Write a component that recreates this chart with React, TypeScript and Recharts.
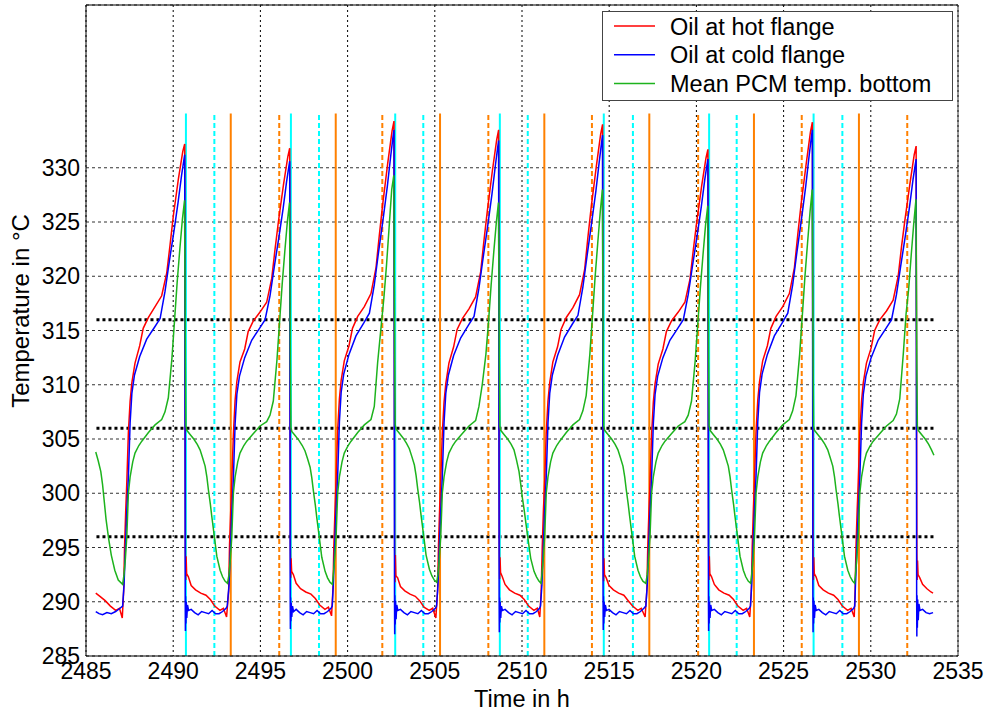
import React from 'react';
import { LineChart, Line, XAxis, YAxis, CartesianGrid, ReferenceLine } from 'recharts';

const xTicks = [2485, 2490, 2495, 2500, 2505, 2510, 2515, 2520, 2525, 2530, 2535];
const yTicks = [285, 290, 295, 300, 305, 310, 315, 320, 325, 330];

const seriesNames = ['Oil at hot flange', 'Oil at cold flange', 'Mean PCM temp. bottom'];
const seriesColors = ['#ff0000', '#0000ff', '#1db31d'];

// [time in h, temperature in °C]
const oilHotFlange: [number, number][] = [
  [2485.56,290.8],[2485.80,290.5],[2486.10,290.1],[2486.40,289.6],[2486.70,289.2],[2486.92,289.4],[2487.08,288.5],
  [2487.16,291.0],[2487.21,295.0],[2487.28,298.5],[2487.34,301.0],[2487.43,305.6],[2487.53,308.5],[2487.63,310.2],[2487.81,312.0],[2488.08,313.6],[2488.28,315.2],[2488.58,316.2],[2488.96,317.2],[2489.34,318.2],[2489.63,320.3],[2489.82,322.9],[2490.01,325.6],[2490.30,329.0],[2490.55,331.5],[2490.66,332.2],
  [2490.70,294.8],[2490.72,292.0],[2490.74,294.2],[2490.77,292.6],[2490.87,292.3],[2491.03,291.5],[2491.28,291.1],[2491.58,290.8],[2491.88,290.6],[2492.13,290.2],[2492.38,289.6],[2492.68,289.2],[2492.88,289.4],[2493.06,288.6],
  [2493.18,291.0],[2493.23,295.2],[2493.30,298.4],[2493.36,301.2],[2493.45,305.4],[2493.55,308.6],[2493.65,310.3],[2493.83,312.1],[2494.10,313.3],[2494.30,314.9],[2494.60,315.9],[2494.98,316.7],[2495.36,317.6],[2495.65,319.8],[2495.84,322.5],[2496.03,325.0],[2496.32,328.4],[2496.57,331.0],[2496.68,331.8],
  [2496.72,295.0],[2496.74,292.2],[2496.76,294.0],[2496.79,292.8],[2496.89,292.5],[2497.05,291.7],[2497.30,291.2],[2497.60,290.9],[2497.90,290.7],[2498.15,290.3],[2498.40,289.7],[2498.70,289.3],[2498.90,289.5],[2499.08,288.7],
  [2499.16,291.2],[2499.21,295.0],[2499.28,298.6],[2499.34,301.3],[2499.43,305.8],[2499.53,308.7],[2499.63,310.4],[2499.81,312.2],[2500.08,313.6],[2500.28,315.2],[2500.58,316.3],[2500.96,317.2],[2501.34,318.4],[2501.63,320.8],[2501.82,323.8],[2502.01,326.6],[2502.30,330.4],[2502.55,333.4],[2502.66,334.3],
  [2502.70,294.6],[2502.72,291.8],[2502.74,294.3],[2502.77,292.4],[2502.87,292.2],[2503.03,291.4],[2503.28,291.0],[2503.58,290.7],[2503.88,290.5],[2504.13,290.1],[2504.38,289.5],[2504.68,289.2],[2504.88,289.4],[2505.06,288.5],
  [2505.16,291.0],[2505.21,295.1],[2505.28,298.7],[2505.34,301.1],[2505.43,305.5],[2505.53,308.4],[2505.63,310.1],[2505.81,312.0],[2506.08,313.5],[2506.28,315.1],[2506.58,316.1],[2506.96,317.0],[2507.34,318.1],[2507.63,320.4],[2507.82,323.3],[2508.01,326.0],[2508.30,329.7],[2508.55,332.6],[2508.66,333.5],
  [2508.70,294.9],[2508.72,292.1],[2508.74,294.1],[2508.77,292.7],[2508.87,292.3],[2509.03,291.6],[2509.28,291.1],[2509.58,290.8],[2509.88,290.6],[2510.13,290.2],[2510.38,289.6],[2510.68,289.2],[2510.88,289.4],[2511.02,288.6],
  [2511.10,291.0],[2511.16,295.0],[2511.23,298.5],[2511.30,301.0],[2511.39,305.6],[2511.49,308.5],[2511.59,310.2],[2511.77,312.1],[2512.04,313.5],[2512.24,315.1],[2512.54,316.2],[2512.92,317.1],[2513.30,318.3],[2513.59,320.6],[2513.78,323.6],[2513.97,326.4],[2514.26,330.1],[2514.51,333.1],[2514.62,334.0],
  [2514.66,294.7],[2514.68,291.9],[2514.70,294.0],[2514.73,292.5],[2514.83,292.2],[2514.99,291.5],[2515.24,291.1],[2515.54,290.8],[2515.84,290.6],[2516.09,290.1],[2516.34,289.6],[2516.64,289.2],[2516.84,289.4],[2517.06,288.6],
  [2517.16,291.1],[2517.21,295.0],[2517.28,298.4],[2517.34,301.0],[2517.43,305.4],[2517.53,308.4],[2517.63,310.1],[2517.81,311.9],[2518.08,313.3],[2518.28,314.9],[2518.58,315.9],[2518.96,316.7],[2519.34,317.6],[2519.63,319.7],[2519.82,322.4],[2520.01,324.9],[2520.30,328.3],[2520.55,330.9],[2520.66,331.7],
  [2520.70,294.9],[2520.72,292.0],[2520.74,294.2],[2520.77,292.6],[2520.87,292.3],[2521.03,291.6],[2521.28,291.1],[2521.58,290.8],[2521.88,290.6],[2522.13,290.2],[2522.38,289.6],[2522.68,289.2],[2522.88,289.4],[2523.06,288.6],
  [2523.15,291.0],[2523.20,295.1],[2523.27,298.6],[2523.33,301.2],[2523.42,305.7],[2523.52,308.6],[2523.62,310.3],[2523.80,312.2],[2524.07,313.6],[2524.27,315.2],[2524.57,316.3],[2524.95,317.2],[2525.33,318.4],[2525.62,320.8],[2525.81,323.8],[2526.00,326.6],[2526.29,330.3],[2526.54,333.3],[2526.65,334.2],
  [2526.69,294.8],[2526.71,292.0],[2526.73,294.1],[2526.76,292.6],[2526.86,292.3],[2527.02,291.5],[2527.27,291.1],[2527.57,290.8],[2527.87,290.6],[2528.12,290.2],[2528.37,289.6],[2528.67,289.2],[2528.87,289.4],[2529.05,288.6],
  [2529.10,291.0],[2529.15,295.0],[2529.22,298.5],[2529.28,301.0],[2529.37,305.5],[2529.47,308.5],[2529.57,310.2],[2529.75,312.0],[2530.02,313.4],[2530.22,315.0],[2530.52,316.0],[2530.90,316.8],[2531.28,317.8],[2531.57,320.0],[2531.76,322.7],[2531.95,325.1],[2532.24,328.5],[2532.49,331.2],[2532.60,332.0],
  [2532.64,294.5],[2532.66,292.0],[2532.68,293.8],[2532.71,292.5],[2532.81,292.2],[2532.97,291.6],[2533.22,291.2],[2533.45,290.9],[2533.57,290.8],
];

const oilColdFlange: [number, number][] = [
  [2485.56,289.1],[2485.75,288.9],[2485.95,288.8],[2486.20,289.0],[2486.45,288.9],[2486.70,289.1],[2486.95,289.4],[2487.10,289.6],
  [2487.18,291.5],[2487.25,294.5],[2487.33,298.0],[2487.43,301.5],[2487.53,306.5],[2487.63,309.2],[2487.78,310.9],[2488.08,312.6],[2488.48,314.2],[2488.93,315.3],[2489.25,316.1],[2489.53,318.6],[2489.78,321.4],[2490.03,324.0],[2490.28,326.8],[2490.48,329.3],[2490.60,330.6],[2490.66,331.2],
  [2490.69,290.2],[2490.70,287.3],[2490.71,290.5],[2490.73,288.0],[2490.75,290.0],[2490.78,288.5],[2490.82,289.7],[2490.88,289.2],[2491.03,289.3],[2491.23,289.0],[2491.43,288.8],[2491.63,289.1],[2491.83,289.0],[2492.03,288.9],[2492.23,289.2],[2492.43,288.9],[2492.63,288.9],[2492.83,289.1],[2493.03,289.4],[2493.10,289.6],
  [2493.20,291.5],[2493.27,294.4],[2493.35,297.8],[2493.45,301.3],[2493.55,306.4],[2493.65,309.1],[2493.80,310.8],[2494.10,312.5],[2494.50,314.1],[2494.95,315.2],[2495.27,316.0],[2495.55,318.2],[2495.80,320.9],[2496.05,323.5],[2496.30,326.2],[2496.50,328.7],[2496.62,330.0],[2496.68,330.6],
  [2496.71,290.3],[2496.72,287.5],[2496.73,290.4],[2496.75,288.2],[2496.77,289.9],[2496.80,288.6],[2496.84,289.6],[2496.90,289.1],[2497.05,289.3],[2497.25,289.0],[2497.45,288.8],[2497.65,289.1],[2497.85,289.0],[2498.05,288.9],[2498.25,289.2],[2498.45,288.9],[2498.65,288.9],[2498.85,289.1],[2499.05,289.4],[2499.12,289.6],
  [2499.18,291.6],[2499.25,294.6],[2499.33,298.1],[2499.43,301.6],[2499.53,306.6],[2499.63,309.3],[2499.78,311.0],[2500.08,312.8],[2500.48,314.5],[2500.93,315.7],[2501.25,316.6],[2501.53,319.2],[2501.78,322.3],[2502.03,325.2],[2502.28,328.3],[2502.48,331.2],[2502.60,332.8],[2502.66,333.5],
  [2502.69,290.1],[2502.70,287.0],[2502.71,290.6],[2502.73,287.9],[2502.75,290.1],[2502.78,288.4],[2502.82,289.7],[2502.88,289.2],[2503.03,289.3],[2503.23,289.0],[2503.43,288.8],[2503.63,289.1],[2503.83,289.0],[2504.03,288.9],[2504.23,289.2],[2504.43,288.9],[2504.63,288.9],[2504.83,289.1],[2505.03,289.4],[2505.10,289.6],
  [2505.18,291.5],[2505.25,294.5],[2505.33,298.0],[2505.43,301.5],[2505.53,306.5],[2505.63,309.2],[2505.78,310.9],[2506.08,312.7],[2506.48,314.3],[2506.93,315.5],[2507.25,316.3],[2507.53,318.9],[2507.78,321.8],[2508.03,324.6],[2508.28,327.6],[2508.48,330.3],[2508.60,331.8],[2508.66,332.5],
  [2508.69,290.2],[2508.70,287.2],[2508.71,290.4],[2508.73,288.1],[2508.75,290.0],[2508.78,288.5],[2508.82,289.6],[2508.88,289.2],[2509.03,289.3],[2509.23,289.0],[2509.43,288.8],[2509.63,289.1],[2509.83,289.0],[2510.03,288.9],[2510.23,289.2],[2510.43,288.9],[2510.63,288.9],[2510.83,289.1],[2511.00,289.4],[2511.06,289.6],
  [2511.14,291.5],[2511.21,294.5],[2511.29,298.0],[2511.39,301.5],[2511.49,306.5],[2511.59,309.2],[2511.74,310.9],[2512.04,312.7],[2512.44,314.4],[2512.89,315.6],[2513.21,316.4],[2513.49,319.0],[2513.74,322.0],[2513.99,324.9],[2514.24,327.9],[2514.44,330.7],[2514.56,332.3],[2514.62,333.0],
  [2514.65,290.2],[2514.66,287.4],[2514.67,290.5],[2514.69,288.0],[2514.71,290.0],[2514.74,288.6],[2514.78,289.7],[2514.84,289.2],[2514.99,289.3],[2515.19,289.0],[2515.39,288.8],[2515.59,289.1],[2515.79,289.0],[2515.99,288.9],[2516.19,289.2],[2516.39,288.9],[2516.59,288.9],[2516.79,289.1],[2516.99,289.4],[2517.10,289.6],
  [2517.18,291.5],[2517.25,294.4],[2517.33,297.9],[2517.43,301.4],[2517.53,306.4],[2517.63,309.1],[2517.78,310.8],[2518.08,312.5],[2518.48,314.1],[2518.93,315.2],[2519.25,316.0],[2519.53,318.3],[2519.78,321.0],[2520.03,323.6],[2520.28,326.4],[2520.48,328.9],[2520.60,330.2],[2520.66,330.8],
  [2520.69,290.2],[2520.70,287.3],[2520.71,290.5],[2520.73,288.0],[2520.75,290.0],[2520.78,288.5],[2520.82,289.7],[2520.88,289.2],[2521.03,289.3],[2521.23,289.0],[2521.43,288.8],[2521.63,289.1],[2521.83,289.0],[2522.03,288.9],[2522.23,289.2],[2522.43,288.9],[2522.63,288.9],[2522.83,289.1],[2523.03,289.4],[2523.10,289.6],
  [2523.17,291.6],[2523.24,294.6],[2523.32,298.1],[2523.42,301.6],[2523.52,306.6],[2523.62,309.3],[2523.77,311.0],[2524.07,312.8],[2524.47,314.5],[2524.92,315.7],[2525.24,316.6],[2525.52,319.2],[2525.77,322.3],[2526.02,325.2],[2526.27,328.3],[2526.47,331.2],[2526.59,332.8],[2526.65,333.5],
  [2526.68,290.2],[2526.69,287.2],[2526.70,290.4],[2526.72,288.0],[2526.74,290.1],[2526.77,288.5],[2526.81,289.7],[2526.87,289.2],[2527.02,289.3],[2527.22,289.0],[2527.42,288.8],[2527.62,289.1],[2527.82,289.0],[2528.02,288.9],[2528.22,289.2],[2528.42,288.9],[2528.62,288.9],[2528.82,289.1],[2529.02,289.4],[2529.08,289.6],
  [2529.12,291.5],[2529.19,294.4],[2529.27,297.9],[2529.37,301.4],[2529.47,306.4],[2529.57,309.1],[2529.72,310.8],[2530.02,312.5],[2530.42,314.1],[2530.87,315.2],[2531.19,316.0],[2531.47,318.3],[2531.72,321.0],[2531.97,323.6],[2532.22,326.4],[2532.42,328.9],[2532.54,330.2],[2532.60,330.8],
  [2532.63,290.4],[2532.64,286.8],[2532.65,290.6],[2532.67,287.6],[2532.69,290.2],[2532.72,288.3],[2532.76,289.8],[2532.82,289.2],[2532.97,289.3],[2533.17,289.0],[2533.37,288.9],[2533.57,289.0],
];

const pcmBottomMean: [number, number][] = [
  [2485.56,303.8],[2485.70,303.0],[2485.85,302.0],[2485.95,300.8],[2486.05,299.2],[2486.15,297.6],[2486.30,295.8],[2486.45,294.3],[2486.65,292.9],[2486.85,292.0],[2487.10,291.6],
  [2487.18,292.5],[2487.26,294.0],[2487.34,296.0],[2487.43,300.0],[2487.53,301.5],[2487.68,302.9],[2487.81,303.7],[2488.03,304.4],[2488.20,304.8],[2488.58,305.6],[2488.96,306.3],[2489.34,306.8],[2489.53,307.5],[2489.72,308.8],[2489.93,312.5],[2490.08,316.0],[2490.23,319.5],[2490.38,322.5],[2490.53,325.3],[2490.65,327.0],
  [2490.70,312.0],[2490.73,306.2],[2490.78,305.8],[2490.98,305.4],[2491.18,305.0],[2491.38,304.5],[2491.54,304.0],[2491.68,303.3],[2491.83,302.5],[2491.93,301.5],[2492.02,300.3],[2492.13,299.0],[2492.21,297.9],[2492.36,296.0],[2492.50,294.2],[2492.69,292.9],[2492.83,292.3],[2492.97,291.9],[2493.11,291.7],
  [2493.20,292.5],[2493.28,294.0],[2493.36,296.0],[2493.45,300.0],[2493.55,301.5],[2493.70,302.9],[2493.83,303.7],[2494.05,304.4],[2494.22,304.8],[2494.60,305.5],[2494.98,306.2],[2495.36,306.6],[2495.55,307.2],[2495.74,308.5],[2495.95,312.3],[2496.10,315.8],[2496.25,319.3],[2496.40,322.3],[2496.55,325.1],[2496.67,326.8],
  [2496.72,312.0],[2496.75,306.1],[2496.80,305.7],[2497.00,305.3],[2497.20,304.9],[2497.40,304.4],[2497.56,303.9],[2497.70,303.2],[2497.85,302.4],[2497.95,301.4],[2498.04,300.2],[2498.15,298.9],[2498.23,297.8],[2498.38,295.9],[2498.52,294.1],[2498.71,292.8],[2498.85,292.2],[2498.99,291.8],[2499.13,291.6],
  [2499.18,292.5],[2499.26,294.0],[2499.34,296.0],[2499.43,300.0],[2499.53,301.5],[2499.68,302.9],[2499.81,303.7],[2500.03,304.4],[2500.20,304.8],[2500.58,305.6],[2500.96,306.3],[2501.34,306.8],[2501.53,308.0],[2501.72,312.0],[2501.93,315.5],[2502.08,318.0],[2502.23,321.0],[2502.38,324.5],[2502.53,328.0],[2502.65,329.3],
  [2502.70,312.5],[2502.73,306.3],[2502.78,305.9],[2502.98,305.5],[2503.18,305.1],[2503.38,304.6],[2503.54,304.1],[2503.68,303.4],[2503.83,302.6],[2503.93,301.6],[2504.02,300.4],[2504.13,299.1],[2504.21,298.0],[2504.36,296.1],[2504.50,294.3],[2504.69,293.0],[2504.83,292.4],[2504.97,292.0],[2505.11,291.8],
  [2505.18,292.5],[2505.26,294.0],[2505.34,296.0],[2505.43,300.0],[2505.53,301.5],[2505.68,302.9],[2505.81,303.7],[2506.03,304.4],[2506.20,304.8],[2506.58,305.5],[2506.96,306.2],[2507.34,306.7],[2507.53,308.0],[2507.72,310.0],[2507.93,312.8],[2508.08,315.8],[2508.23,319.2],[2508.38,322.2],[2508.53,325.0],[2508.65,326.8],
  [2508.70,312.0],[2508.73,306.2],[2508.78,305.8],[2508.98,305.4],[2509.18,305.0],[2509.38,304.5],[2509.54,304.0],[2509.68,303.1],[2509.83,302.0],[2509.93,300.8],[2510.02,299.6],[2510.13,298.4],[2510.21,297.4],[2510.36,295.6],[2510.50,294.0],[2510.69,292.8],[2510.83,292.3],[2510.97,291.9],[2511.09,291.7],
  [2511.14,292.5],[2511.22,294.0],[2511.30,296.0],[2511.39,300.0],[2511.49,301.5],[2511.64,302.9],[2511.77,303.7],[2511.99,304.4],[2512.16,304.8],[2512.54,305.6],[2512.92,306.3],[2513.30,306.8],[2513.49,307.6],[2513.68,309.0],[2513.89,312.8],[2514.04,316.3],[2514.19,319.9],[2514.34,323.0],[2514.49,326.0],[2514.61,328.0],
  [2514.66,312.0],[2514.69,306.2],[2514.74,305.8],[2514.94,305.4],[2515.14,305.0],[2515.34,304.5],[2515.50,304.0],[2515.64,303.3],[2515.79,302.5],[2515.89,301.5],[2515.98,300.3],[2516.09,299.0],[2516.17,297.9],[2516.32,296.0],[2516.46,294.2],[2516.65,292.9],[2516.79,292.3],[2516.93,291.9],[2517.10,291.7],
  [2517.18,292.5],[2517.26,294.0],[2517.34,296.0],[2517.43,300.0],[2517.53,301.5],[2517.68,302.9],[2517.81,303.7],[2518.03,304.4],[2518.20,304.8],[2518.58,305.5],[2518.96,306.2],[2519.34,306.6],[2519.53,307.2],[2519.72,308.5],[2519.93,312.2],[2520.08,315.6],[2520.23,319.0],[2520.38,322.0],[2520.53,324.8],[2520.65,326.5],
  [2520.70,312.0],[2520.73,306.2],[2520.78,305.8],[2520.98,305.4],[2521.18,305.0],[2521.38,304.5],[2521.54,304.0],[2521.68,303.3],[2521.83,302.5],[2521.93,301.5],[2522.02,300.3],[2522.13,299.0],[2522.21,297.9],[2522.36,296.0],[2522.50,294.2],[2522.69,292.9],[2522.83,292.3],[2522.97,291.9],[2523.11,291.7],
  [2523.17,292.5],[2523.25,294.0],[2523.33,296.0],[2523.42,300.0],[2523.52,301.5],[2523.67,302.9],[2523.80,303.7],[2524.02,304.4],[2524.19,304.8],[2524.57,305.6],[2524.95,306.3],[2525.33,306.8],[2525.52,307.6],[2525.71,309.0],[2525.92,312.8],[2526.07,316.3],[2526.22,319.9],[2526.37,323.0],[2526.52,326.0],[2526.64,328.0],
  [2526.69,312.0],[2526.72,306.2],[2526.77,305.8],[2526.97,305.4],[2527.17,305.0],[2527.37,304.5],[2527.53,304.0],[2527.67,303.3],[2527.82,302.5],[2527.92,301.5],[2528.01,300.3],[2528.12,299.0],[2528.20,297.9],[2528.35,296.0],[2528.49,294.2],[2528.68,292.9],[2528.82,292.3],[2528.96,291.9],[2529.07,291.7],
  [2529.12,292.5],[2529.20,294.0],[2529.28,296.0],[2529.37,300.0],[2529.47,301.5],[2529.62,302.9],[2529.75,303.7],[2529.97,304.4],[2530.14,304.8],[2530.52,305.5],[2530.90,306.2],[2531.28,306.7],[2531.47,307.3],[2531.66,308.7],[2531.87,313.0],[2532.02,316.5],[2532.17,318.8],[2532.32,322.0],[2532.47,325.0],[2532.59,327.1],
  [2532.64,312.0],[2532.67,306.2],[2532.72,305.8],[2532.92,305.4],[2533.12,305.0],[2533.32,304.5],[2533.48,304.0],[2533.62,303.5],
];

const cyanSolidTimes = [2490.73, 2496.75, 2502.73, 2508.73, 2514.69, 2520.73, 2526.72];
const cyanDashedTimes = [2492.36, 2498.36, 2504.34, 2510.33, 2516.36, 2522.31, 2528.37];
const orangeSolidTimes = [2493.30, 2499.32, 2505.30, 2511.28, 2517.30, 2523.30, 2529.32];
const orangeDashedTimes = [2496.08, 2501.99, 2508.07, 2514.01, 2520.10, 2526.04, 2532.09];
const markerRange = [285, 335];
const thresholdLevels = [296, 306, 316];
const thresholdSpan = [2485.6, 2533.6];

const toPoints = (arr: [number, number][]) => arr.map(([t, v]) => ({ t, v }));
const FONT = '"Liberation Sans", Arial, Helvetica, sans-serif';

export default function App() {
  const tickStyle = { fontSize: 23, fill: '#000', fontFamily: FONT };
  const series = [oilHotFlange, oilColdFlange, pcmBottomMean];
  const vLine = (t: number, color: string, dashed: boolean, key: string) => (
    <ReferenceLine
      key={key}
      segment={[{ x: t, y: markerRange[0] }, { x: t, y: markerRange[1] }]}
      stroke={color}
      strokeWidth={2}
      strokeDasharray={dashed ? '5 3' : undefined}
    />
  );
  return (
    <div style={{ position: 'absolute', left: 0, top: 0, width: 987, height: 712, background: '#fff', fontFamily: FONT }}>
      <LineChart width={987} height={712} margin={{ top: 5, right: 29, bottom: 0, left: 0 }}>
        <CartesianGrid horizontal={false} stroke="#000" strokeDasharray="2 3" strokeWidth={1} />
        <CartesianGrid vertical={false} stroke="#333" strokeDasharray="3 3" strokeWidth={1} />
        <XAxis
          type="number"
          dataKey="t"
          domain={[2485, 2535]}
          ticks={xTicks}
          allowDataOverflow
          height={56}
          tickSize={0}
          tickMargin={7}
          tick={tickStyle}
          axisLine={{ stroke: '#000', strokeWidth: 1 }}
          label={{ value: 'Time in h', position: 'insideBottom', offset: 5, fontSize: 23.5, fill: '#000', fontFamily: FONT }}
        />
        <YAxis
          type="number"
          domain={[285, 345]}
          ticks={yTicks}
          allowDataOverflow
          width={86}
          tickSize={0}
          tickMargin={6}
          tick={tickStyle}
          axisLine={{ stroke: '#000', strokeWidth: 1 }}
        />
        <ReferenceLine y={345} stroke="#000" strokeWidth={1} />
        <ReferenceLine x={2535} stroke="#333" strokeWidth={1} />
        {thresholdLevels.map((lv) => (
          <ReferenceLine
            key={'th' + lv}
            segment={[{ x: thresholdSpan[0], y: lv }, { x: thresholdSpan[1], y: lv }]}
            stroke="#000"
            strokeWidth={3}
            strokeDasharray="3 3"
          />
        ))}
        {orangeDashedTimes.map((t, i) => vLine(t, '#ff8000', true, 'od' + i))}
        {cyanDashedTimes.map((t, i) => vLine(t, '#00ffff', true, 'cd' + i))}
        {orangeSolidTimes.map((t, i) => vLine(t, '#ff8000', false, 'os' + i))}
        {cyanSolidTimes.map((t, i) => vLine(t, '#00ffff', false, 'cs' + i))}
        {series.map((s, i) => (
          <Line
            key={seriesNames[i]}
            name={seriesNames[i]}
            data={toPoints(s)}
            dataKey="v"
            type="linear"
            stroke={seriesColors[i]}
            strokeWidth={1.5}
            dot={false}
            activeDot={false}
            isAnimationActive={false}
          />
        ))}
      </LineChart>
      <svg width={987} height={712} style={{ position: 'absolute', left: 0, top: 0, pointerEvents: 'none' }}>
        <text transform="translate(29,311) rotate(-90)" textAnchor="middle" fontSize={24} fill="#000" fontFamily={FONT}>
          Temperature in °C
        </text>
        <rect x={602.5} y={11.5} width={350} height={89} fill="#fff" stroke="#444" strokeWidth={1} />
        {seriesNames.map((n, i) => (
          <g key={n}>
            <line x1={614} x2={655} y1={26 + i * 28.7} y2={26 + i * 28.7} stroke={seriesColors[i]} strokeWidth={1.5} />
            <text x={670} y={34.5 + i * 28.7} fontSize={23.5} fill="#000" fontFamily={FONT}>
              {n}
            </text>
          </g>
        ))}
      </svg>
    </div>
  );
}
